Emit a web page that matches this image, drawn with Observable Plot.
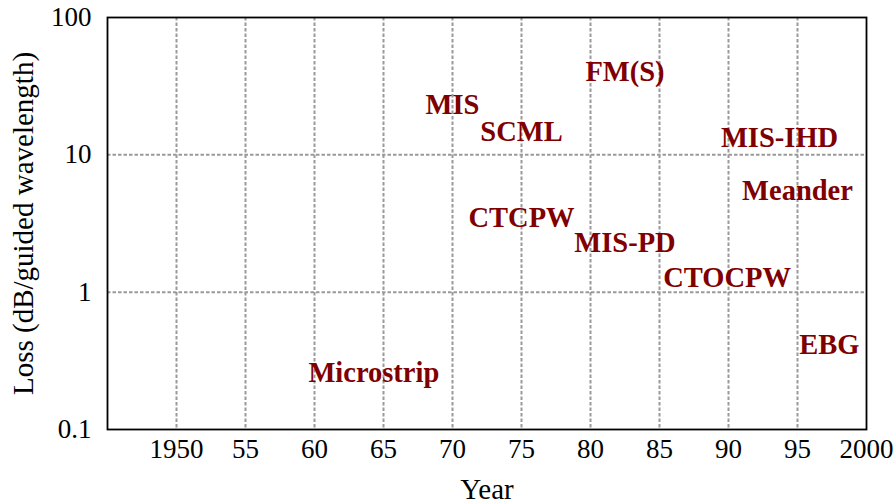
<!DOCTYPE html>
<html>
<head>
<meta charset="utf-8">
<script src="https://cdn.jsdelivr.net/npm/d3@7"></script>
<script src="https://cdn.jsdelivr.net/npm/@observablehq/plot@0.6"></script>
<style>
  html, body { margin: 0; padding: 0; background: #fff; }
</style>
</head>
<body>
<div id="chart"></div>
<script>
const labels = ["FM(S)", "MIS", "SCML", "CTCPW", "MIS-PD", "MIS-IHD", "Meander", "CTOCPW", "EBG", "Microstrip"];
const years  = [1982.5, 1970.0, 1975.0, 1975.0, 1982.5, 1993.7, 1995.0, 1989.9, 1997.3, 1964.3];
const losses = [40, 23, 14.6, 3.5, 2.3, 13.2, 5.5, 1.28, 0.41, 0.26];
const xTicks = [1950, 1955, 1960, 1965, 1970, 1975, 1980, 1985, 1990, 1995, 2000];
const xGrid  = [1950, 1955, 1960, 1965, 1970, 1975, 1980, 1985, 1990, 1995];
const yTicks = [0.1, 1, 10, 100];
const yGrid  = [1, 10];

const data = labels.map((t, i) => ({label: t, year: years[i], loss: losses[i]}));

const chart = Plot.plot({
  width: 895,
  height: 504,
  marginLeft: 107,
  marginRight: 29,
  marginTop: 17,
  marginBottom: 75,
  style: {fontFamily: "'Liberation Serif', 'Times New Roman', serif", fontSize: "27px", background: "#fff", color: "#000"},
  x: {domain: [1945, 2000]},
  y: {type: "log", domain: [0.1, 100]},
  marks: [
    Plot.gridX(xGrid, {stroke: "#9a9a9a", strokeOpacity: 1, strokeWidth: 2, strokeDasharray: "3.5,2"}),
    Plot.gridY(yGrid, {stroke: "#9a9a9a", strokeOpacity: 1, strokeWidth: 2, strokeDasharray: "3.5,2"}),
    Plot.frame({stroke: "#000", strokeWidth: 1.8}),
    Plot.axisX(xTicks, {
      tickSize: 0, tickPadding: 9, fontSize: 27,
      tickFormat: d => (d === 1950 || d === 2000) ? String(d) : String(d % 100),
      label: null
    }),
    Plot.axisX({
      ticks: [], tickSize: 0, fontSize: 29,
      label: "Year", labelAnchor: "center", labelArrow: "none", labelOffset: 69
    }),
    Plot.axisY(yTicks, {
      tickSize: 0, tickPadding: 16, fontSize: 27,
      tickFormat: d => String(d),
      label: null
    }),
    Plot.axisY({
      ticks: [], tickSize: 0, fontSize: 29,
      label: "Loss (dB/guided wavelength)", labelAnchor: "center", labelArrow: "none", labelOffset: 95
    }),
    Plot.text(data, {
      x: "year", y: "loss", text: "label",
      fill: "#800000", fontWeight: "bold", fontSize: 28.5
    })
  ]
});
document.getElementById("chart").appendChild(chart);
</script>
</body>
</html>
